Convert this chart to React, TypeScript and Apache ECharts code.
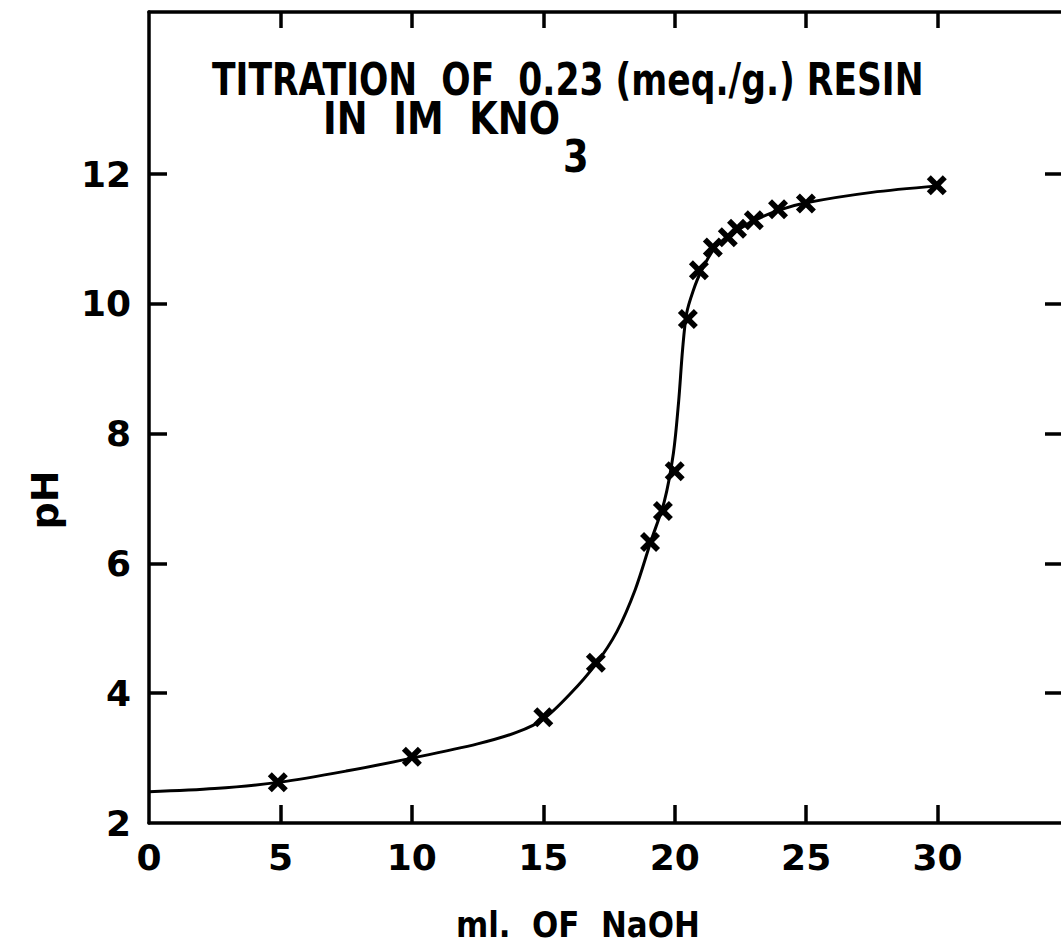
import React, { useEffect, useRef } from "react";
import * as echarts from "echarts";

// measured titration points (ml of NaOH, pH)
const mlNaOH = [4.9, 10, 15, 17, 19.06, 19.55, 20.0, 20.5, 20.92, 21.45, 22.02, 22.37, 23.01, 23.93, 24.99, 29.97];
const pHValues = [2.63, 3.02, 3.63, 4.47, 6.33, 6.81, 7.42, 9.77, 10.52, 10.87, 11.03, 11.16, 11.29, 11.46, 11.55, 11.83];

// hand-drawn fitted curve
const curveMl = [0, 2.5, 5, 7.5, 10, 12.5, 14, 15, 16, 17, 17.8, 18.5, 19.1, 19.6, 19.95, 20.15, 20.3, 20.45, 20.7, 21, 21.5, 22, 23, 24, 25, 27.5, 30];
const curvePH = [2.48, 2.53, 2.63, 2.8, 3.0, 3.22, 3.4, 3.6, 3.98, 4.45, 4.95, 5.6, 6.35, 6.95, 7.7, 8.5, 9.3, 9.85, 10.2, 10.5, 10.85, 11.03, 11.28, 11.45, 11.56, 11.72, 11.82];

const xTicks = [5, 10, 15, 20, 25, 30];
const xLabels = [0, 5, 10, 15, 20, 25, 30];
const yTicks = [4, 6, 8, 10, 12];
const yLabels = [2, 4, 6, 8, 10, 12];

const FONT = '"DejaVu Sans", sans-serif';
const X_SYMBOL =
  "path://M0,2 L2,0 L5,3 L8,0 L10,2 L7,5 L10,8 L8,10 L5,7 L2,10 L0,8 L3,5 Z";

function fitScale(text: string, size: number, weight: string, target: number) {
  const ctx = document.createElement("canvas").getContext("2d");
  if (!ctx) return 0.85;
  ctx.font = `${weight} ${size}px "DejaVu Sans"`;
  const w = ctx.measureText(text).width;
  return w > 0 ? target / w : 0.85;
}

export default function App() {
  const ref = useRef<HTMLDivElement>(null);
  useEffect(() => {
    document.body.style.margin = "0";
    const chart = echarts.init(ref.current!, null, { renderer: "svg" });
    const axisLine = { show: true, onZero: false, lineStyle: { color: "#000", width: 3.5 } };
    const tickStyle = { color: "#000", width: 3.5 };
    const labelStyle = { fontSize: 36, fontWeight: "bold", fontFamily: FONT, color: "#000" };
    const t1 = "TITRATION  OF  0.23 (meq./g.) RESIN";
    const t2 = "IN  IM  KNO";
    const s1 = fitScale(t1, 44, "bold", 712);
    const s2 = fitScale(t2, 44, "bold", 237);
    const sx = fitScale("ml.  OF  NaOH", 36, "bold", 244);
    chart.setOption({
      animation: false,
      backgroundColor: "#fff",
      grid: { left: 149, top: 12, width: 920, height: 811, containLabel: false, outerBoundsMode: "none" },
      xAxis: [
        {
          type: "value", position: "bottom", min: 0, max: 35, interval: 5,
          axisLine, splitLine: { show: false },
          axisTick: { show: true, inside: true, length: 18, customValues: xTicks, lineStyle: tickStyle },
          axisLabel: { show: true, customValues: xLabels, margin: 16, ...labelStyle },
        },
        {
          type: "value", position: "top", min: 0, max: 35, interval: 5,
          axisLine, splitLine: { show: false },
          axisTick: { show: true, inside: true, length: 16, customValues: xTicks, lineStyle: tickStyle },
          axisLabel: { show: false },
        },
      ],
      yAxis: [
        {
          type: "value", position: "left", min: 2, max: 14.5, interval: 2,
          axisLine, splitLine: { show: false },
          axisTick: { show: true, inside: true, length: 18, customValues: yTicks, lineStyle: tickStyle },
          axisLabel: { show: true, customValues: yLabels, margin: 18, ...labelStyle },
        },
        {
          type: "value", position: "right", min: 2, max: 14.5, interval: 2,
          axisLine: { show: false, onZero: false }, splitLine: { show: false },
          axisTick: { show: true, inside: true, length: 24, customValues: yTicks, lineStyle: tickStyle },
          axisLabel: { show: false },
        },
      ],
      graphic: [
        {
          type: "text", x: 212, y: 79, scaleX: s1,
          style: { text: t1, fontSize: 44, fontWeight: "bold", fontFamily: FONT, fill: "#000", align: "left", verticalAlign: "middle" },
        },
        {
          type: "text", x: 323, y: 119, scaleX: s2,
          style: { text: t2, fontSize: 44, fontWeight: "bold", fontFamily: FONT, fill: "#000", align: "left", verticalAlign: "middle" },
        },
        {
          type: "text", x: 563, y: 157, scaleX: s2,
          style: { text: "3", fontSize: 44, fontWeight: "bold", fontFamily: FONT, fill: "#000", align: "left", verticalAlign: "middle" },
        },
        {
          type: "text", x: 45, y: 500, rotation: Math.PI / 2,
          style: { text: "pH", fontSize: 38, fontWeight: "bold", fontFamily: FONT, fill: "#000", align: "center", verticalAlign: "middle" },
        },
        {
          type: "text", x: 456, y: 925, scaleX: sx,
          style: { text: "ml.  OF  NaOH", fontSize: 36, fontWeight: "bold", fontFamily: FONT, fill: "#000", align: "left", verticalAlign: "middle" },
        },
      ],
      series: [
        {
          type: "line", xAxisIndex: 0, yAxisIndex: 0,
          data: curveMl.map((x, i) => [x, curvePH[i]]),
          smooth: 0.3, showSymbol: false, symbol: "none",
          lineStyle: { color: "#000", width: 3 }, z: 2,
        },
        {
          type: "scatter", xAxisIndex: 0, yAxisIndex: 0,
          data: mlNaOH.map((x, i) => [x, pHValues[i]]),
          symbol: X_SYMBOL, symbolSize: 20,
          itemStyle: { color: "#000", opacity: 1 }, z: 3,
        },
      ],
    });
    return () => chart.dispose();
  }, []);
  return (
    <div style={{ position: "fixed", left: 0, top: 0, width: 1061, height: 951, overflow: "hidden", background: "#fff" }}>
      <div ref={ref} style={{ width: 1061, height: 951, background: "#fff" }} />
    </div>
  );
}
